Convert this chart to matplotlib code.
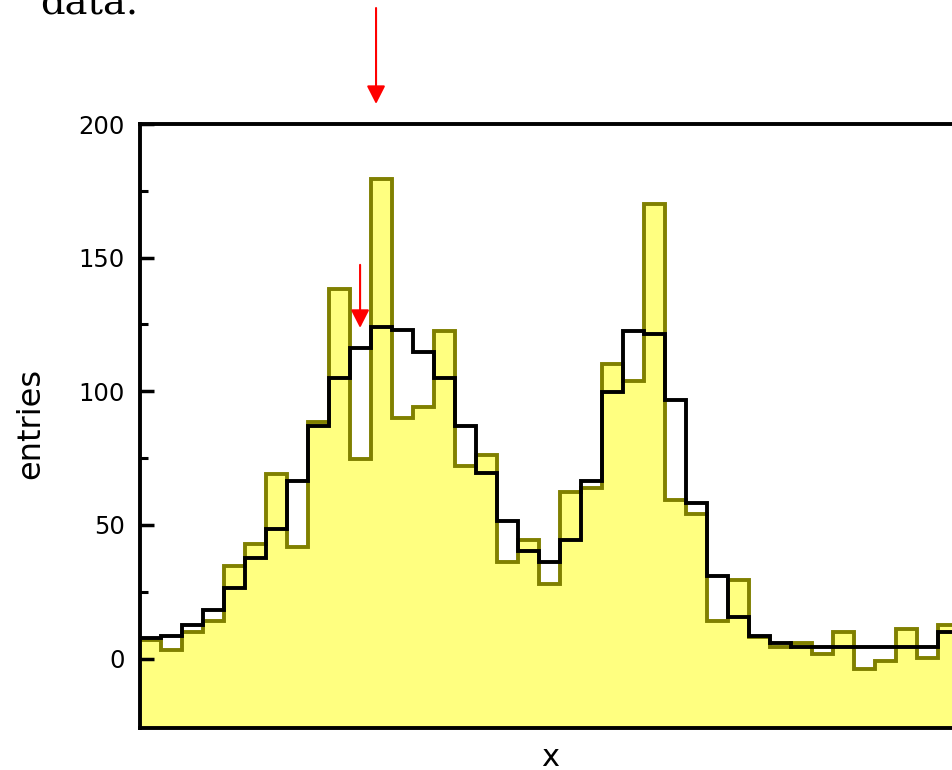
import numpy as np
import matplotlib
matplotlib.use("Agg")
import matplotlib.pyplot as plt
from matplotlib.ticker import FixedLocator

# measured histogram (yellow) and model (black step), one value per bin
data = [7, 3.1, 10, 14, 34.5, 42.7, 69, 41.6, 88.5, 138.2, 74.8, 179.6, 90, 94,
        122.7, 72.1, 76, 36, 44.2, 27.9, 62.2, 63.8, 110.3, 103.7, 170, 59.4,
        54.2, 14, 29.3, 8, 4.4, 5.7, 1.7, 9.8, -3.9, -1, 11.2, 0.3, 12.6]
model = [7.5, 8.6, 12.7, 18, 26.3, 37.5, 48.5, 66.3, 87.1, 104.9, 116, 124.2,
         122.9, 114.8, 104.9, 87.1, 69.3, 51.6, 40.1, 36, 44.2, 66.3, 99.6,
         122.7, 121.6, 96.7, 58.2, 30.8, 15.4, 8.3, 5.7, 4.2, 4.2, 4.2, 4.2,
         4.2, 4.2, 4.2, 9.8]
edges = np.arange(len(data) + 1)

# arrow markers: (x, tail y, tip y)
arrows = [(11.24, 243.4, 207.5), (10.48, 147.3, 123.7)]

yticks = [0, 50, 100, 150, 200]
yminor = [25, 75, 125, 175]
ymin, ymax = -26, 200

fig = plt.figure(figsize=(9.52, 7.7), dpi=100)
ax = fig.add_axes([140 / 952, 42 / 770, 819 / 952, 604 / 770])

ax.stairs(data, edges, baseline=ymin, fill=True, color='#ffff80', zorder=1)
ax.stairs(data, edges, baseline=None, color='#808000', lw=2.8, zorder=2)
ax.stairs(model, edges, baseline=None, color='black', lw=2.8, zorder=3)

for x, y0, y1 in arrows:
    ax.annotate('', xy=(x, y1), xytext=(x, y0), annotation_clip=False,
                arrowprops=dict(arrowstyle='-|>,head_length=0.55,head_width=0.28',
                                color='red', lw=1.5, mutation_scale=20,
                                shrinkA=0, shrinkB=0))

ax.set_xlim(edges[0], edges[-1])
ax.set_ylim(ymin, ymax)
ax.set_xticks([])
ax.yaxis.set_major_locator(FixedLocator(yticks))
ax.yaxis.set_minor_locator(FixedLocator(yminor))
ax.tick_params(axis='y', which='major', direction='in', length=10, width=2.5,
               pad=10.8, labelsize=17.5)
ax.tick_params(axis='y', which='minor', direction='in', length=6, width=2.2)
for s in ax.spines.values():
    s.set_linewidth(2.8)
    s.set_zorder(4)

ax.set_ylabel('entries', fontsize=23)
ax.yaxis.label.set_va('center')
ax.yaxis.set_label_coords(-0.133, 0.505)
ax.set_xlabel('x', fontsize=22)
ax.xaxis.label.set_va('baseline')
ax.xaxis.set_label_coords(0.5006, -0.0629)

fig.text(40 / 952, 1 - 13 / 770, 'data.', family='DejaVu Serif', fontsize=27.7,
         ha='left', va='baseline')

fig.savefig('out.png', dpi=100)
